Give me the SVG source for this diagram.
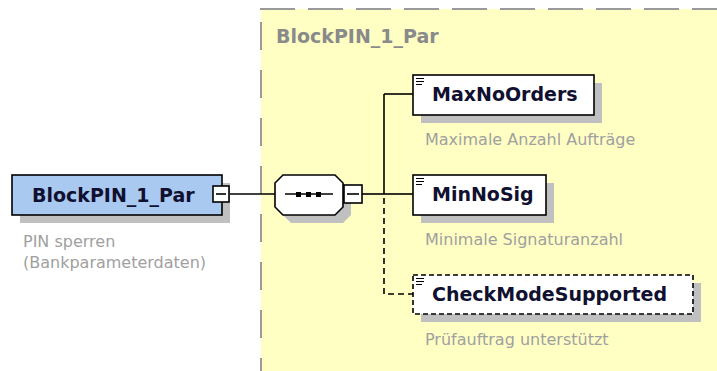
<svg xmlns="http://www.w3.org/2000/svg" width="717" height="371" viewBox="0 0 717 371">
<style>
.bg{fill:#ffffff}
.area{fill:#FFFFC4}
.border{stroke:#9a9a9a;stroke-width:2;fill:none;stroke-dasharray:35 13}
.shadow{fill:#C0C0C0}
.node{stroke:#000;stroke-width:1.6}
.name{font-family:"DejaVu Sans",Verdana,sans-serif;font-weight:bold;font-size:19px;fill:#101030}
.title{font-family:"DejaVu Sans",Verdana,sans-serif;font-weight:bold;font-size:19px;fill:#8a8a8a}
.desc{font-family:"DejaVu Sans",Verdana,sans-serif;font-size:16px;fill:#a0a0a0}
.ln{stroke:#000;stroke-width:1.6;fill:none}
.dash{stroke-dasharray:6 4}
.icon{stroke:#000;stroke-width:1}
</style>
<rect class="bg" x="0" y="0" width="717" height="371"/>
<g id="content-area">
<rect class="area" x="261" y="9" width="456" height="362"/>
<line class="border" x1="260" y1="9" x2="717" y2="9"/>
<line class="border" x1="261" y1="22" x2="261" y2="371" style="stroke-dasharray:28 20"/>
<text class="title" x="276" y="43">BlockPIN_1_Par</text>
</g>
<g id="connectors">
<line class="ln" x1="229" y1="194" x2="275" y2="194"/>
<line class="ln" x1="362" y1="194" x2="384" y2="194"/>
<line class="ln" x1="384" y1="94" x2="384" y2="194"/>
<line class="ln" x1="384" y1="94" x2="413" y2="94"/>
<line class="ln" x1="384" y1="194" x2="413" y2="194"/>
<polyline class="ln dash" points="384,198 384,294 413,294"/>
</g>
<g id="BlockPIN_1_Par">
<rect class="shadow" x="20" y="183" width="210" height="40"/>
<rect class="node" x="12" y="175" width="210" height="40" fill="#A9C9F1"/>
<text class="name" x="32" y="202">BlockPIN_1_Par</text>
<rect class="node" x="213" y="186" width="16" height="16" fill="#fff" stroke-width="1.2"/>
<line class="ln" x1="216" y1="194" x2="226" y2="194"/>
<text class="desc" x="23" y="247">PIN sperren</text>
<text class="desc" x="23" y="268">(Bankparameterdaten)</text>
</g>
<g id="sequence">
<polygon class="shadow" points="291,183 343,183 351,191 351,215 343,223 291,223 283,215 283,191"/>
<polygon class="node" points="283,175 335,175 343,183 343,207 335,215 283,215 275,207 275,183" fill="#fff" stroke-width="1.2"/>
<line class="ln" x1="285" y1="194" x2="333" y2="194"/>
<rect x="296" y="192" width="5" height="5" fill="#000"/>
<rect x="306" y="192" width="5" height="5" fill="#000"/>
<rect x="316" y="192" width="5" height="5" fill="#000"/>
<rect class="node" x="344" y="185" width="18" height="18" fill="#fff" stroke-width="1.2"/>
<line class="ln" x1="347" y1="194" x2="359" y2="194"/>
</g>
<g id="MaxNoOrders">
<rect class="shadow" x="421" y="83" width="181" height="40"/>
<rect class="node" x="413" y="75" width="181" height="40" fill="#fff"/>
<line class="icon" x1="416" y1="78.5" x2="424" y2="78.5"/>
<line class="icon" x1="416" y1="81.5" x2="424" y2="81.5"/>
<line class="icon" x1="416" y1="84.5" x2="422" y2="84.5"/>
<text class="name" x="432" y="101">MaxNoOrders</text>
<text class="desc" x="425" y="145">Maximale Anzahl Aufträge</text>
</g>
<g id="MinNoSig">
<rect class="shadow" x="421" y="183" width="133" height="40"/>
<rect class="node" x="413" y="175" width="133" height="40" fill="#fff"/>
<line class="icon" x1="416" y1="178.5" x2="424" y2="178.5"/>
<line class="icon" x1="416" y1="181.5" x2="424" y2="181.5"/>
<line class="icon" x1="416" y1="184.5" x2="422" y2="184.5"/>
<text class="name" x="432" y="201">MinNoSig</text>
<text class="desc" x="425" y="245">Minimale Signaturanzahl</text>
</g>
<g id="CheckModeSupported">
<rect class="shadow" x="421" y="283" width="280" height="39"/>
<rect class="node" x="413" y="275" width="280" height="39" fill="#fff" stroke-dasharray="5 3"/>
<line class="icon" x1="416" y1="278.5" x2="424" y2="278.5"/>
<line class="icon" x1="416" y1="281.5" x2="424" y2="281.5"/>
<line class="icon" x1="416" y1="284.5" x2="422" y2="284.5"/>
<text class="name" x="432" y="301">CheckModeSupported</text>
<text class="desc" x="425" y="345">Prüfauftrag unterstützt</text>
</g>
</svg>
